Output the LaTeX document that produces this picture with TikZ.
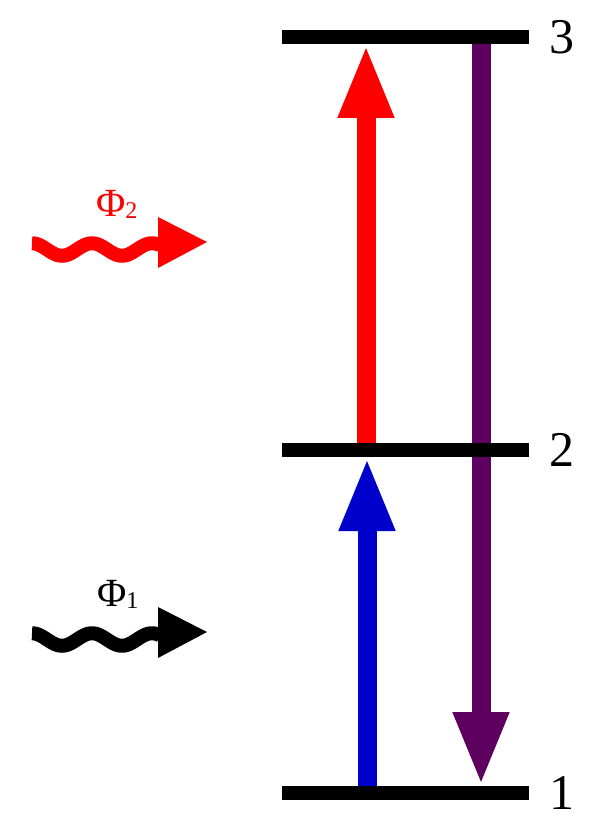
\documentclass[tikz,border=0pt]{standalone}
\usepackage{fontspec}
\setmainfont{Liberation Serif}
\usetikzlibrary{arrows.meta}
\definecolor{purp}{RGB}{94,0,96}
\definecolor{myblue}{RGB}{0,0,204}
\begin{document}
\begin{tikzpicture}[x=1pt,y=-1pt,
  levelbar/.style={line width=14pt},
  trans/.style={line width=19pt,-{Triangle[length=74pt,width=51pt]}},
  lvlnum/.style={font=\fontsize{50}{50}\selectfont, anchor=center, inner sep=0pt},
  wave/.style={line width=14pt},
  phlab/.style={anchor=base west, inner sep=0pt, font=\fontsize{40}{40}\selectfont}]
\useasboundingbox (0,0) rectangle (597,826);
% level coordinates
\coordinate (L3w) at (282,37);  \coordinate (L3e) at (529,37);
\coordinate (L2w) at (282,450); \coordinate (L2e) at (529,450);
\coordinate (L1w) at (282,793); \coordinate (L1e) at (529,793);
% transition end points
\coordinate (r2) at (366,450); \coordinate (r3) at (366,44);
\coordinate (b1) at (367,793); \coordinate (b2) at (367,457);
\coordinate (p3) at (481,37);  \coordinate (p1) at (481,786);
% transitions
\draw[trans, red] (r2) -- (r3);
\draw[trans, myblue] (b1) -- (b2);
\draw[trans, purp] (p3) -- (p1);
% levels
\draw[levelbar] (L3w) -- (L3e);
\draw[levelbar] (L2w) -- (L2e);
\draw[levelbar] (L1w) -- (L1e);
% level labels
\node[lvlnum] (n3) at (562,37) {3};
\node[lvlnum] (n2) at (562,450) {2};
\node[lvlnum] (n1) at (562,793) {1};
% photons
\draw[wave, red] plot[domain=32:160, samples=90] (\x, {249.5-6.25*cos(6*(\x-32))});
\fill[red] (158,217) -- (207,242) -- (158,268) -- cycle;
\draw[wave, black] plot[domain=32:160, samples=90] (\x, {639.5-6.25*cos(6*(\x-32))});
\fill[black] (158,607) -- (207,632) -- (158,658) -- cycle;
\node[phlab, red] (phi2) at (96,216) {Φ\raisebox{-2pt}{\fontsize{24}{24}\selectfont 2}};
\node[phlab, black] (phi1) at (97,606) {Φ\raisebox{-2pt}{\fontsize{24}{24}\selectfont 1}};
\end{tikzpicture}
\end{document}
